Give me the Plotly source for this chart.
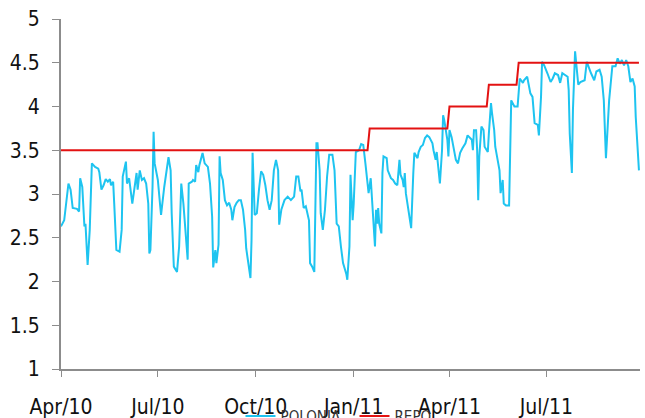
import pandas as pd
import plotly.graph_objects as go

start_date = "2010-04-01"

# POLONIA overnight rate: day offsets from 2010-04-01 and values (%)
polonia_days = [
    0, 3, 7, 9, 11, 15, 17, 18, 20, 22, 23, 25, 27, 29, 32, 35, 36, 38, 40, 42,
    44, 46, 47, 49, 50, 52, 55, 57, 58, 61, 62, 64, 67, 69, 71, 72, 74, 76, 78, 80,
    82, 83, 84, 86, 87, 88, 91, 93, 94, 97, 99, 101, 103, 104, 106, 109, 111, 113, 115, 118,
    119, 120, 123, 124, 126, 127, 129, 130, 133, 135, 138, 140, 142, 143, 145, 146, 148, 149, 150, 152,
    154, 156, 158, 160, 161, 163, 165, 167, 169, 171, 173, 174, 177, 178, 179, 180, 182, 184, 186, 188,
    190, 192, 194, 196, 198, 200, 202, 204, 205, 207, 210, 213, 216, 219, 221, 223, 225, 226, 228, 230,
    233, 234, 236, 238, 240, 241, 243, 244, 246, 248, 250, 252, 255, 257, 259, 261, 263, 265, 268, 269,
    271, 272, 274, 275, 277, 280, 282, 284, 286, 288, 289, 291, 292, 294, 295, 296, 297, 298, 299, 301,
    302, 303, 306, 307, 310, 312, 314, 316, 318, 319, 321, 322, 323, 324, 326, 328, 329, 331, 332, 335,
    336, 338, 340, 342, 344, 346, 349, 350, 352, 353, 355, 356, 358, 359, 360, 361, 362, 363, 364, 365,
    367, 369, 371, 373, 375, 377, 380, 382, 384, 386, 387, 388, 390, 391, 392, 393, 395, 397, 398, 401,
    402, 404, 405, 407, 408, 410, 412, 413, 415, 416, 418, 421, 422, 423, 426, 429, 431, 434, 435, 438,
    441, 443, 445, 448, 449, 451, 452, 454, 457, 460, 462, 464, 467, 469, 471, 473, 476, 477, 478, 480,
    481, 483, 485, 486, 488, 492, 494, 496, 498, 501, 503, 506, 508, 510, 511, 512, 515, 518, 521, 523,
    525, 527, 529, 531, 533, 535, 537, 539, 540, 541, 543,
]
polonia_values = [
    2.63, 2.70, 3.12, 3.05, 2.84, 2.83, 2.80, 3.18, 3.08, 2.63, 2.66, 2.19, 2.59, 3.35, 3.31, 3.29, 3.25, 3.05, 3.10, 3.17,
    3.14, 3.17, 3.10, 3.14, 2.89, 2.36, 2.34, 2.59, 3.20, 3.37, 3.12, 3.18, 2.89, 3.05, 3.24, 3.05, 3.27, 3.16, 3.18, 3.12,
    2.89, 2.32, 2.36, 3.08, 3.71, 3.35, 3.16, 2.89, 2.76, 3.08, 3.24, 3.42, 3.27, 2.78, 2.17, 2.11, 2.40, 3.12, 2.89, 2.40,
    2.25, 3.12, 3.14, 3.16, 3.14, 3.33, 3.25, 3.33, 3.47, 3.35, 3.31, 3.12, 2.74, 2.16, 2.36, 2.21, 2.42, 3.43, 3.24, 3.16,
    2.93, 2.87, 2.90, 2.82, 2.70, 2.85, 2.90, 2.93, 2.93, 2.82, 2.59, 2.38, 2.13, 2.04, 2.47, 3.47, 2.76, 2.78, 3.05, 3.26,
    3.22, 3.10, 2.93, 2.82, 2.93, 3.27, 3.39, 3.27, 2.65, 2.82, 2.93, 2.97, 2.93, 2.97, 3.20, 3.20, 3.03, 3.05, 2.84, 2.86,
    2.70, 2.21, 2.17, 2.11, 3.58, 3.58, 3.27, 2.78, 2.59, 2.82, 3.20, 3.45, 3.45, 3.27, 2.66, 2.63, 2.40, 2.21, 2.09, 2.02,
    2.40, 3.22, 2.70, 2.89, 3.48, 3.50, 3.57, 3.56, 3.35, 3.08, 3.01, 3.18, 2.99, 2.66, 2.40, 2.82, 2.66, 2.84, 2.66, 2.55,
    3.24, 3.43, 3.41, 3.27, 3.18, 3.16, 3.12, 3.10, 3.39, 3.22, 3.16, 3.08, 3.24, 3.01, 2.86, 2.70, 2.61, 3.24, 3.47, 3.41,
    3.48, 3.54, 3.56, 3.64, 3.67, 3.65, 3.58, 3.50, 3.39, 3.48, 3.27, 3.12, 3.50, 3.90, 3.85, 3.77, 3.73, 3.62, 3.43, 3.73,
    3.65, 3.50, 3.39, 3.35, 3.47, 3.52, 3.58, 3.67, 3.64, 3.62, 3.50, 3.73, 3.73, 3.50, 2.93, 3.43, 3.77, 3.73, 3.54, 3.48,
    3.69, 4.04, 3.92, 3.73, 3.54, 3.39, 3.27, 3.01, 3.16, 2.89, 2.87, 2.87, 3.39, 4.07, 4.00, 4.00, 4.32, 4.27, 4.30, 4.34,
    4.15, 4.11, 3.81, 3.79, 3.67, 4.11, 4.51, 4.47, 4.38, 4.28, 4.32, 4.38, 4.36, 4.27, 4.38, 4.36, 4.34, 4.19, 3.69, 3.24,
    3.96, 4.63, 4.30, 4.25, 4.28, 4.30, 4.51, 4.44, 4.38, 4.30, 4.40, 4.42, 4.34, 4.07, 3.69, 3.41, 4.07, 4.46, 4.46, 4.55,
    4.49, 4.53, 4.47, 4.53, 4.46, 4.28, 4.32, 4.23, 3.88, 3.62, 3.27, 4.34,
]

# NBP reference (REPO) rate
repo_dates = ["2010-04-01", "2011-01-14", "2011-01-16", "2011-03-30", "2011-04-01",
              "2011-05-06", "2011-05-08", "2011-06-03", "2011-06-05", "2011-09-26"]
repo_values = [3.5, 3.5, 3.75, 3.75, 4.0, 4.0, 4.25, 4.25, 4.5, 4.5]

x_tick_dates = ["2010-04-01", "2010-07-01", "2010-10-01", "2011-01-01", "2011-04-01", "2011-07-01"]
x_tick_labels = ["Apr/10", "Jul/10", "Oct/10", "Jan/11", "Apr/11", "Jul/11"]
y_tick_values = [1, 1.5, 2, 2.5, 3, 3.5, 4, 4.5, 5]
y_tick_labels = ["1", "1.5", "2", "2.5", "3", "3.5", "4", "4.5", "5"]

polonia_dates = pd.Timestamp(start_date) + pd.to_timedelta(polonia_days, unit="D")

font_family = "DejaVu Sans Condensed, DejaVu Sans, sans-serif"

fig = go.Figure()
fig.add_trace(go.Scatter(
    x=polonia_dates, y=polonia_values, mode="lines", name="POLONIA",
    line=dict(color="#1EC4F0", width=2),
))
fig.add_trace(go.Scatter(
    x=pd.to_datetime(repo_dates), y=repo_values, mode="lines", name="REPO",
    line=dict(color="#E31212", width=2),
))

axis_color = "#8C8C8C"
fig.update_layout(
    width=645, height=418,
    margin=dict(l=61, r=5, t=19, b=49, autoexpand=False),
    paper_bgcolor="white", plot_bgcolor="white",
    font=dict(family=font_family, size=21, color="#111111"),
    showlegend=True,
    legend=dict(
        orientation="h", x=0.310, xanchor="left", y=-0.135, yanchor="middle",
        font=dict(family=font_family, size=15, color="#333333"),
        bgcolor="rgba(0,0,0,0)", itemwidth=30,
        entrywidth=69, entrywidthmode="pixels",
    ),
    xaxis=dict(
        type="date",
        range=["2010-04-01", "2011-09-27"],
        tickvals=pd.to_datetime(x_tick_dates), ticktext=x_tick_labels,
        showgrid=False, zeroline=False,
        showline=True, linecolor=axis_color, linewidth=2,
        ticks="outside", ticklen=6, tickcolor=axis_color, tickwidth=1,
        ticklabelstandoff=12,
        tickfont=dict(family=font_family, size=21, color="#111111"),
    ),
    yaxis=dict(
        range=[1, 5],
        tickvals=y_tick_values, ticktext=y_tick_labels,
        showgrid=False, zeroline=False,
        showline=True, linecolor=axis_color, linewidth=2,
        ticks="outside", ticklen=7, tickcolor=axis_color, tickwidth=1,
        ticklabelstandoff=8,
        tickfont=dict(family=font_family, size=21, color="#111111"),
    ),
)

fig.write_html(
    "out.html",
    config={"displayModeBar": False},
    post_script="document.body.style.margin='0';document.body.style.overflow='hidden';",
)
